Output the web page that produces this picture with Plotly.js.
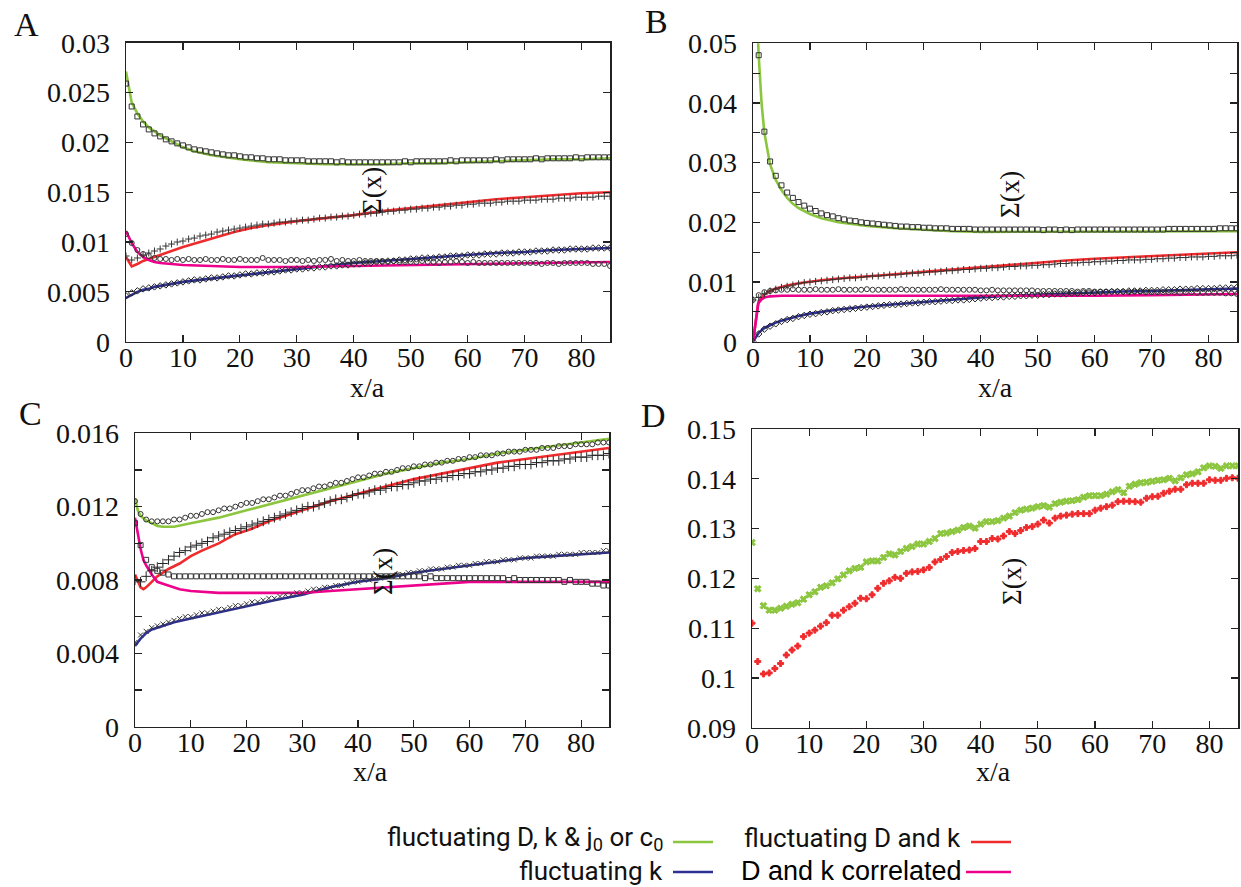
<!DOCTYPE html>
<html><head><meta charset="utf-8">
<script src="https://cdn.plot.ly/plotly-3.0.1.min.js"></script>
<style>html,body{margin:0;padding:0;background:#fff;}#plot{width:1241px;height:887px;}</style>
</head><body><div id="plot"></div>
<script>
// ---------- DATA ----------
// sample grid for the simulation markers (x/a = 0..85)
const X = Array.from({length: 86}, (_, i) => i);

// Panel A – analytic curves
const A_green_x = [0,1,2,3,4,5,6,8,10,12,15,20,25,30,35,40,45,50,55,60,65,70,75,80,85];
const A_green_y = [0.0271,0.0240,0.0229,0.0221,0.0215,0.0211,0.0207,0.0201,0.0195,0.0191,0.0187,0.0183,0.0180,0.0179,0.0178,0.0178,0.0178,0.0179,0.0179,0.0180,0.0181,0.0182,0.0183,0.0183,0.0184];
const A_red_x = [0,1,2,3,4,5,7,10,13,16,19,22,25,30,35,40,45,50,55,60,65,70,75,80,85];
const A_red_y = [0.0085,0.00755,0.0078,0.0081,0.0083,0.0085,0.0089,0.0095,0.0100,0.0105,0.0110,0.0114,0.0117,0.0121,0.0124,0.0127,0.0131,0.0134,0.0137,0.0140,0.0143,0.0145,0.0147,0.0149,0.0150];
const A_blue_x = [0,1,2,3,4,5,7,10,13,16,19,22,25,30,35,40,45,50,55,60,65,70,75,80,85];
const A_blue_y = [0.0044,0.0047,0.0050,0.0052,0.0053,0.0055,0.0057,0.0060,0.0062,0.0064,0.0066,0.0068,0.0070,0.0073,0.0076,0.0079,0.0081,0.0083,0.0085,0.0087,0.0089,0.0090,0.0092,0.0093,0.0094];
const A_mag_x = [0,1,2,3,4,5,6,8,10,15,20,25,30,40,50,60,70,80,85];
const A_mag_y = [0.0111,0.0099,0.0090,0.0085,0.0082,0.0080,0.0079,0.0078,0.0077,0.0076,0.0075,0.0075,0.0075,0.0076,0.0077,0.0078,0.0079,0.0080,0.0080];
// Panel A – simulation markers
const A_green_m = [0.0259,0.0236,0.0226,0.0218,0.0213,0.0209,0.0206,0.0203,0.0201,0.0199,
 0.0197,0.0195,0.0193,0.0192,0.0191,0.0190,0.0189,0.0188,0.0187,0.0187,
 0.0186,0.0185,0.0185,0.0184,0.0184,0.0183,0.0183,0.0183,0.0182,0.0182,
 0.0182,0.0182,0.0181,0.0181,0.0181,0.0181,0.0181,0.0180,0.0181,0.0180,
 0.0180,0.0180,0.0180,0.0180,0.0180,0.0180,0.0180,0.0180,0.0180,0.0181,
 0.0180,0.0181,0.0181,0.0181,0.0181,0.0181,0.0181,0.0182,0.0181,0.0182,
 0.0182,0.0182,0.0182,0.0182,0.0182,0.0183,0.0182,0.0183,0.0183,0.0183,
 0.0183,0.0183,0.0184,0.0183,0.0184,0.0184,0.0184,0.0184,0.0184,0.0185,
 0.0184,0.0185,0.0185,0.0185,0.0185,0.0185];
const A_red_m = [0.0086,0.0082,0.0084,0.0087,0.0089,0.0091,0.0093,0.0096,0.0098,0.0100,
 0.0101,0.0103,0.0104,0.0106,0.0107,0.0108,0.0110,0.0111,0.0112,0.0113,
 0.0114,0.0115,0.0116,0.0117,0.0118,0.0118,0.0119,0.0120,0.0120,0.0121,
 0.0121,0.0122,0.0122,0.0123,0.0124,0.0124,0.0125,0.0125,0.0126,0.0126,
 0.0127,0.0128,0.0128,0.0129,0.0129,0.0130,0.0131,0.0131,0.0132,0.0132,
 0.0133,0.0133,0.0134,0.0134,0.0135,0.0135,0.0136,0.0136,0.0137,0.0137,
 0.0138,0.0138,0.0139,0.0139,0.0139,0.0140,0.0140,0.0141,0.0141,0.0141,
 0.0142,0.0142,0.0142,0.0143,0.0143,0.0143,0.0144,0.0144,0.0144,0.0145,
 0.0145,0.0145,0.0145,0.0146,0.0146,0.0146];
const A_circ_m = [0.0108,0.0099,0.0092,0.0088,0.0086,0.0084,0.0083,0.0083,0.0082,0.0083,
 0.0082,0.0083,0.0082,0.0082,0.0083,0.0082,0.0082,0.0083,0.0082,0.0082,
 0.0083,0.0082,0.0082,0.0082,0.0084,0.0082,0.0082,0.0082,0.0081,0.0082,
 0.0082,0.0081,0.0082,0.0081,0.0082,0.0082,0.0083,0.0081,0.0082,0.0081,
 0.0081,0.0082,0.0081,0.0081,0.0081,0.0081,0.0080,0.0081,0.0080,0.0080,
 0.0080,0.0080,0.0081,0.0080,0.0080,0.0079,0.0080,0.0080,0.0081,0.0080,
 0.0079,0.0080,0.0079,0.0079,0.0079,0.0079,0.0079,0.0079,0.0079,0.0079,
 0.0079,0.0079,0.0079,0.0078,0.0079,0.0079,0.0078,0.0079,0.0079,0.0079,
 0.0079,0.0079,0.0078,0.0078,0.0078,0.0076];
const A_blue_m = [0.0046,0.0049,0.0051,0.0053,0.0054,0.0055,0.0056,0.0057,0.0058,0.0059,
 0.0060,0.0061,0.0062,0.0062,0.0063,0.0064,0.0064,0.0065,0.0066,0.0066,
 0.0067,0.0068,0.0068,0.0069,0.0069,0.0070,0.0070,0.0071,0.0072,0.0072,
 0.0073,0.0073,0.0074,0.0074,0.0075,0.0075,0.0076,0.0076,0.0077,0.0077,
 0.0078,0.0078,0.0079,0.0079,0.0080,0.0080,0.0081,0.0081,0.0082,0.0082,
 0.0083,0.0083,0.0084,0.0084,0.0084,0.0085,0.0085,0.0086,0.0086,0.0086,
 0.0087,0.0087,0.0087,0.0088,0.0088,0.0088,0.0089,0.0089,0.0089,0.0090,
 0.0090,0.0090,0.0091,0.0091,0.0091,0.0092,0.0092,0.0092,0.0093,0.0093,
 0.0093,0.0093,0.0094,0.0094,0.0094,0.0094];

// Panel B – analytic curves
const B_green_x = [0,1,1.5,2,3,4,5,6,7,8,10,12,15,20,25,30,35,40,50,60,70,80,85];
const B_green_y = [0.070,0.048,0.040,0.035,0.0297,0.0271,0.0254,0.0241,0.0231,0.0224,0.0214,0.0207,0.0200,0.0194,0.0190,0.0187,0.0185,0.0184,0.0184,0.0184,0.0184,0.0185,0.0185];
const B_red_x = [0,1,2,3,4,5,6,8,10,12,15,20,25,30,35,40,45,50,55,60,65,70,75,80,85];
const B_red_y = [0,0.0068,0.0079,0.0085,0.0089,0.0092,0.0094,0.0098,0.0101,0.0103,0.0106,0.0109,0.0113,0.0117,0.0121,0.0125,0.0129,0.0133,0.0136,0.0139,0.0141,0.0144,0.0146,0.0148,0.0150];
const B_blue_x = [0,1,2,3,4,5,6,8,10,12,15,20,25,30,35,40,45,50,55,60,65,70,75,80,85];
const B_blue_y = [0,0.0015,0.0023,0.0028,0.0032,0.0035,0.0038,0.0043,0.0047,0.0050,0.0054,0.0059,0.0063,0.0067,0.0070,0.0074,0.0077,0.0079,0.0081,0.0083,0.0084,0.0085,0.0087,0.0088,0.0089];
const B_mag_x = [0,0.9,1.5,2,3,4,5,7,10,15,20,30,40,50,60,70,80,85];
const B_mag_y = [0,0.0064,0.0071,0.0074,0.0076,0.0077,0.0077,0.0077,0.0077,0.0077,0.0077,0.0077,0.0076,0.0076,0.0077,0.0078,0.0079,0.0080];
// Panel B – simulation markers
const B_green_m = [0.070,0.0480,0.0352,0.0302,0.0278,0.0262,0.0250,0.0241,0.0234,0.0228,
 0.0223,0.0219,0.0215,0.0212,0.0210,0.0207,0.0205,0.0203,0.0202,0.0200,
 0.0199,0.0198,0.0197,0.0196,0.0195,0.0194,0.0193,0.0193,0.0192,0.0192,
 0.0191,0.0191,0.0190,0.0190,0.0190,0.0189,0.0189,0.0189,0.0189,0.0188,
 0.0188,0.0188,0.0188,0.0188,0.0188,0.0188,0.0188,0.0188,0.0188,0.0188,
 0.0188,0.0187,0.0188,0.0188,0.0187,0.0188,0.0187,0.0188,0.0188,0.0188,
 0.0188,0.0188,0.0188,0.0188,0.0188,0.0188,0.0188,0.0188,0.0188,0.0188,
 0.0188,0.0188,0.0188,0.0189,0.0189,0.0189,0.0189,0.0189,0.0189,0.0189,
 0.0189,0.0189,0.0190,0.0190,0.0190,0.0190];
const B_red_m = [0.0070,0.0074,0.0080,0.0085,0.0088,0.0091,0.0093,0.0095,0.0097,0.0099,
 0.0100,0.0101,0.0102,0.0103,0.0104,0.0105,0.0106,0.0107,0.0107,0.0108,
 0.0109,0.0110,0.0110,0.0111,0.0112,0.0112,0.0113,0.0114,0.0115,0.0115,
 0.0116,0.0117,0.0117,0.0118,0.0119,0.0119,0.0120,0.0121,0.0121,0.0122,
 0.0123,0.0123,0.0124,0.0124,0.0125,0.0126,0.0126,0.0127,0.0127,0.0128,
 0.0128,0.0129,0.0129,0.0130,0.0131,0.0131,0.0132,0.0132,0.0133,0.0133,
 0.0134,0.0134,0.0135,0.0135,0.0136,0.0136,0.0137,0.0137,0.0137,0.0138,
 0.0138,0.0139,0.0139,0.0140,0.0140,0.0141,0.0141,0.0142,0.0142,0.0142,
 0.0143,0.0143,0.0144,0.0144,0.0144,0.0145];
const B_circ_m = [0.0070,0.0078,0.0083,0.0085,0.0086,0.0087,0.0087,0.0088,0.0087,0.0087,
 0.0087,0.0088,0.0087,0.0087,0.0087,0.0088,0.0087,0.0087,0.0087,0.0087,
 0.0088,0.0087,0.0087,0.0087,0.0087,0.0087,0.0088,0.0087,0.0087,0.0087,
 0.0087,0.0087,0.0087,0.0088,0.0087,0.0087,0.0087,0.0087,0.0087,0.0087,
 0.0086,0.0086,0.0087,0.0086,0.0086,0.0086,0.0086,0.0086,0.0086,0.0086,
 0.0085,0.0085,0.0085,0.0085,0.0085,0.0085,0.0085,0.0084,0.0085,0.0085,
 0.0084,0.0084,0.0084,0.0084,0.0084,0.0084,0.0083,0.0084,0.0084,0.0083,
 0.0083,0.0083,0.0083,0.0083,0.0083,0.0082,0.0083,0.0083,0.0082,0.0082,
 0.0082,0.0082,0.0082,0.0081,0.0081,0.0080];
const B_blue_m = [0.0000,0.0013,0.0021,0.0026,0.0030,0.0034,0.0037,0.0039,0.0042,0.0044,
 0.0046,0.0047,0.0049,0.0050,0.0052,0.0053,0.0054,0.0055,0.0056,0.0057,
 0.0058,0.0059,0.0060,0.0061,0.0062,0.0062,0.0063,0.0064,0.0065,0.0065,
 0.0066,0.0067,0.0067,0.0068,0.0069,0.0069,0.0070,0.0070,0.0071,0.0072,
 0.0073,0.0074,0.0074,0.0075,0.0075,0.0076,0.0076,0.0077,0.0077,0.0078,
 0.0078,0.0079,0.0079,0.0080,0.0080,0.0080,0.0081,0.0081,0.0082,0.0082,
 0.0082,0.0083,0.0083,0.0084,0.0084,0.0084,0.0085,0.0085,0.0085,0.0086,
 0.0086,0.0086,0.0087,0.0087,0.0087,0.0088,0.0088,0.0088,0.0089,0.0089,
 0.0089,0.0089,0.0090,0.0090,0.0090,0.0091];

// Panel C – analytic curves
const C_green_x = [0,0.5,1,2,3,4,5,7,10,15,20,25,30,35,40,45,50,55,60,65,70,75,80,85];
const C_green_y = [0.01245,0.0118,0.0115,0.01125,0.0111,0.01095,0.0109,0.0109,0.0111,0.0114,0.0118,0.0122,0.0126,0.0130,0.0134,0.0138,0.0141,0.0144,0.0146,0.0149,0.0151,0.0153,0.0155,0.0157];
const C_red_x = [0,1,1.5,2,3,4,5,6,8,10,12,15,18,21,24,27,30,35,40,45,50,55,60,65,70,75,80,85];
const C_red_y = [0.0083,0.0076,0.0075,0.0076,0.0079,0.0082,0.0084,0.0086,0.0089,0.0093,0.0096,0.0100,0.0105,0.0108,0.0112,0.0115,0.0118,0.0123,0.0127,0.0131,0.0135,0.0138,0.0141,0.0144,0.0146,0.0148,0.0150,0.0152];
const C_blue_x = [0,1,2,3,4,5,7,10,13,16,20,25,30,35,40,45,50,55,60,65,70,75,80,85];
const C_blue_y = [0.0044,0.0048,0.0051,0.0053,0.0054,0.0055,0.0057,0.0059,0.0061,0.0063,0.0066,0.0069,0.0072,0.0076,0.0079,0.0081,0.0084,0.0086,0.0088,0.0090,0.0092,0.0093,0.0094,0.0095];
const C_mag_x = [0,0.5,1,1.5,2,3,4,5,6,8,10,15,20,25,30,35,40,50,60,70,80,85];
const C_mag_y = [0.0114,0.0105,0.0097,0.0091,0.0088,0.0083,0.0079,0.0078,0.0077,0.0075,0.0074,0.0073,0.0073,0.0073,0.0073,0.0074,0.0075,0.0077,0.0079,0.0079,0.0079,0.0079];
// Panel C – simulation markers
const C_green_m = [0.0123,0.0116,0.0113,0.0112,0.0112,0.0112,0.0112,0.0113,0.0113,0.0114,
 0.0115,0.0115,0.0116,0.0117,0.0117,0.0118,0.0119,0.0119,0.0120,0.0121,
 0.0122,0.0122,0.0123,0.0124,0.0124,0.0125,0.0126,0.0126,0.0127,0.0128,
 0.0129,0.0129,0.0130,0.0131,0.0131,0.0132,0.0133,0.0133,0.0134,0.0135,
 0.0136,0.0136,0.0137,0.0138,0.0138,0.0139,0.0139,0.0140,0.0141,0.0141,
 0.0142,0.0142,0.0143,0.0143,0.0144,0.0144,0.0145,0.0145,0.0146,0.0146,
 0.0147,0.0147,0.0148,0.0148,0.0148,0.0149,0.0149,0.0150,0.0150,0.0150,
 0.0151,0.0151,0.0151,0.0152,0.0152,0.0152,0.0153,0.0153,0.0153,0.0154,
 0.0154,0.0154,0.0154,0.0155,0.0155,0.0155];
const C_red_m = [0.0080,0.0079,0.0082,0.0085,0.0087,0.0089,0.0091,0.0093,0.0095,0.0096,
 0.0098,0.0099,0.0100,0.0101,0.0103,0.0104,0.0105,0.0106,0.0107,0.0108,
 0.0109,0.0110,0.0111,0.0112,0.0113,0.0114,0.0115,0.0116,0.0117,0.0118,
 0.0119,0.0120,0.0120,0.0121,0.0122,0.0123,0.0124,0.0124,0.0125,0.0126,
 0.0127,0.0127,0.0128,0.0129,0.0129,0.0130,0.0131,0.0131,0.0132,0.0132,
 0.0133,0.0134,0.0134,0.0135,0.0135,0.0136,0.0136,0.0137,0.0137,0.0138,
 0.0138,0.0139,0.0139,0.0140,0.0140,0.0141,0.0141,0.0142,0.0142,0.0143,
 0.0143,0.0143,0.0144,0.0144,0.0145,0.0145,0.0145,0.0146,0.0146,0.0147,
 0.0147,0.0147,0.0148,0.0148,0.0148,0.0149];
const C_circ_m = [0.0111,0.0099,0.0091,0.0087,0.0085,0.0084,0.0083,0.0082,0.0082,0.0082,
 0.0082,0.0082,0.0082,0.0082,0.0082,0.0082,0.0082,0.0082,0.0082,0.0082,
 0.0082,0.0082,0.0082,0.0082,0.0082,0.0082,0.0082,0.0082,0.0082,0.0082,
 0.0082,0.0082,0.0082,0.0082,0.0082,0.0082,0.0082,0.0082,0.0082,0.0082,
 0.0082,0.0082,0.0082,0.0082,0.0082,0.0082,0.0082,0.0082,0.0082,0.0082,
 0.0082,0.0082,0.0081,0.0082,0.0081,0.0081,0.0081,0.0081,0.0081,0.0081,
 0.0081,0.0081,0.0081,0.0081,0.0081,0.0081,0.0081,0.0080,0.0081,0.0080,
 0.0080,0.0080,0.0080,0.0080,0.0080,0.0080,0.0080,0.0079,0.0080,0.0079,
 0.0079,0.0079,0.0078,0.0078,0.0077,0.0077];
const C_blue_m = [0.0046,0.0050,0.0052,0.0054,0.0055,0.0056,0.0057,0.0058,0.0059,0.0060,
 0.0060,0.0061,0.0062,0.0062,0.0063,0.0064,0.0064,0.0065,0.0066,0.0066,
 0.0067,0.0068,0.0068,0.0069,0.0070,0.0070,0.0071,0.0072,0.0072,0.0073,
 0.0073,0.0074,0.0075,0.0075,0.0076,0.0076,0.0077,0.0077,0.0078,0.0079,
 0.0079,0.0080,0.0080,0.0081,0.0081,0.0082,0.0082,0.0083,0.0083,0.0084,
 0.0084,0.0085,0.0085,0.0086,0.0086,0.0086,0.0087,0.0087,0.0088,0.0088,
 0.0088,0.0089,0.0089,0.0090,0.0090,0.0090,0.0091,0.0091,0.0091,0.0092,
 0.0092,0.0092,0.0093,0.0093,0.0093,0.0093,0.0094,0.0094,0.0094,0.0094,
 0.0095,0.0095,0.0095,0.0095,0.0096,0.0096];

// Panel D – simulation markers only
const D_green_m = [0.1272,0.1179,0.1145,0.1136,0.1136,0.1140,0.1144,0.1148,0.1151,0.1158,
 0.1167,0.1173,0.1182,0.1185,0.1191,0.1199,0.1207,0.1215,0.1220,0.1222,
 0.1233,0.1235,0.1235,0.1242,0.1249,0.1247,0.1254,0.1260,0.1264,0.1269,
 0.1269,0.1274,0.1280,0.1290,0.1291,0.1294,0.1297,0.1302,0.1305,0.1301,
 0.1309,0.1314,0.1314,0.1316,0.1321,0.1325,0.1332,0.1337,0.1339,0.1341,
 0.1344,0.1346,0.1343,0.1350,0.1353,0.1355,0.1356,0.1358,0.1363,0.1366,
 0.1366,0.1366,0.1369,0.1374,0.1378,0.1372,0.1385,0.1389,0.1392,0.1393,
 0.1395,0.1397,0.1398,0.1401,0.1396,0.1402,0.1408,0.1410,0.1414,0.1422,
 0.1426,0.1425,0.1421,0.1426,0.1426,0.1426];
const D_red_m = [0.1110,0.1033,0.1008,0.1010,0.1019,0.1029,0.1046,0.1056,0.1064,0.1083,
 0.1090,0.1096,0.1104,0.1111,0.1126,0.1126,0.1136,0.1143,0.1150,0.1160,
 0.1159,0.1167,0.1180,0.1190,0.1195,0.1202,0.1200,0.1210,0.1213,0.1214,
 0.1217,0.1222,0.1233,0.1238,0.1244,0.1252,0.1254,0.1256,0.1257,0.1260,
 0.1274,0.1274,0.1280,0.1279,0.1285,0.1294,0.1290,0.1296,0.1302,0.1304,
 0.1309,0.1317,0.1311,0.1321,0.1325,0.1327,0.1329,0.1330,0.1330,0.1330,
 0.1337,0.1341,0.1344,0.1347,0.1354,0.1355,0.1355,0.1354,0.1353,0.1361,
 0.1364,0.1365,0.1371,0.1375,0.1379,0.1379,0.1388,0.1391,0.1391,0.1391,
 0.1398,0.1397,0.1397,0.1401,0.1402,0.1401];

// Tick definitions
const xTicks = [0,10,20,30,40,50,60,70,80];
const A_yticks = [0,0.005,0.01,0.015,0.02,0.025,0.03];
const A_ylabels = ['0','0.005','0.01','0.015','0.02','0.025','0.03'];
const B_yticks = [0,0.005,0.01,0.015,0.02,0.025,0.03,0.035,0.04,0.045,0.05];
const B_ylabels = ['0',' ','0.01',' ','0.02',' ','0.03',' ','0.04',' ','0.05'];
const C_yticks = [0,0.002,0.004,0.006,0.008,0.01,0.012,0.014,0.016];
const C_ylabels = ['0',' ','0.004',' ','0.008',' ','0.012',' ','0.016'];
const D_yticks = [0.09,0.1,0.11,0.12,0.13,0.14,0.15];
const D_ylabels = ['0.09','0.1','0.11','0.12','0.13','0.14','0.15'];

const legendLabels = ['fluctuating D, k &amp; j<sub>0</sub> or c<sub>0</sub>','fluctuating D and k','fluctuating k','D and k correlated'];

// ---------- STYLE ----------
const GREEN = '#8cc63f', RED = '#ef2b2d', BLUE = '#2e3192', MAG = '#ec008c';
const W = 1241, H = 887;
const px = v => v / W, py = v => 1 - v / H;
const SERIF = 'Liberation Serif';

function line(x, y, color, ax) {
  return {x, y, type: 'scatter', mode: 'lines', line: {color, width: 2.6}, xaxis: 'x' + ax, yaxis: 'y' + ax, hoverinfo: 'skip', showlegend: false};
}
function marks(y, symbol, ax, color, size) {
  return {x: X, y, type: 'scatter', mode: 'markers', xaxis: 'x' + ax, yaxis: 'y' + ax, hoverinfo: 'skip', showlegend: false,
    marker: {symbol, size: size || 5, color: color || '#333', line: {color: color || '#333', width: 1}}};
}

const traces = [
  line(A_green_x, A_green_y, GREEN, ''), line(A_red_x, A_red_y, RED, ''), line(A_blue_x, A_blue_y, BLUE, ''), line(A_mag_x, A_mag_y, MAG, ''),
  marks(A_green_m, 'square-open', ''), marks(A_red_m, 'cross-thin-open', ''), marks(A_circ_m, 'circle-open', ''), marks(A_blue_m, 'diamond-open', '', '#222'),
  line(B_green_x, B_green_y, GREEN, '2'), line(B_red_x, B_red_y, RED, '2'), line(B_blue_x, B_blue_y, BLUE, '2'), line(B_mag_x, B_mag_y, MAG, '2'),
  marks(B_green_m, 'square-open', '2'), marks(B_red_m, 'cross-thin-open', '2'), marks(B_circ_m, 'circle-open', '2'), marks(B_blue_m, 'diamond-open', '2', '#222'),
  line(C_green_x, C_green_y, GREEN, '3'), line(C_red_x, C_red_y, RED, '3'), line(C_blue_x, C_blue_y, BLUE, '3'), line(C_mag_x, C_mag_y, MAG, '3'),
  marks(C_green_m, 'circle-open', '3'), marks(C_red_m, 'cross-thin-open', '3', '#222', 7), marks(C_circ_m, 'square-open', '3'), marks(C_blue_m, 'x-thin-open', '3', '#333', 5),
  marks(D_green_m, 'x', '4', GREEN, 6), marks(D_red_m, 'cross', '4', RED, 5)
];

function xa(dom, anchor) {
  return {domain: dom, anchor, range: [0, 85], tickvals: xTicks, showgrid: false, zeroline: false,
    showline: true, linecolor: '#222', linewidth: 1.5, mirror: 'allticks', ticks: 'inside', ticklen: 7, tickwidth: 1.2, tickcolor: '#222',
    tickfont: {family: SERIF, size: 28, color: '#111'}, ticklabelstandoff: -10};
}
function ya(dom, anchor, range, tv, tt) {
  return {domain: dom, anchor, range, tickvals: tv, ticktext: tt, showgrid: false, zeroline: false,
    showline: true, linecolor: '#222', linewidth: 1.5, mirror: 'allticks', ticks: 'inside', ticklen: 7, tickwidth: 1.2, tickcolor: '#222',
    tickfont: {family: SERIF, size: 28, color: '#111'}, ticklabelstandoff: 9};
}

function txt(x, y, text, size, extra) {
  return Object.assign({xref: 'paper', yref: 'paper', x: px(x), y: py(y), text, showarrow: false,
    font: {family: SERIF, size, color: '#111'}, xanchor: 'center', yanchor: 'middle'}, extra || {});
}
const SANS1 = {family: 'Roboto', size: 26, color: '#111'};
const annotations = [
  txt(26, 24, 'A', 34), txt(656, 22, 'B', 34), txt(30, 413, 'C', 34), txt(653, 415, 'D', 34),
  txt(367, 387, 'x/a', 28), txt(995, 387, 'x/a', 28), txt(370, 771, 'x/a', 28), txt(993, 771, 'x/a', 28),
  txt(372, 190, 'Σ(x)', 27, {textangle: -90}), txt(1010, 195, 'Σ(x)', 27, {textangle: -90}),
  txt(383, 572, 'Σ(x)', 27, {textangle: -90}), txt(1012, 582, 'Σ(x)', 27, {textangle: -90}),
  txt(665, 838, legendLabels[0], 26, {xanchor: 'right', font: SANS1}),
  txt(963, 838, legendLabels[1], 26, {xanchor: 'right', font: SANS1}),
  txt(665, 871, legendLabels[2], 26, {xanchor: 'right', font: SANS1}),
  txt(964, 871, legendLabels[3], 27, {xanchor: 'right', font: {family: 'Liberation Sans', size: 27, color: '#000'}})
];

const legendColors = [GREEN, RED, BLUE, MAG];
const legendPos = [[673, 713, 842], [971, 1011, 842], [673, 713, 872], [966, 1011, 872]];
const shapes = legendPos.map((p, i) => ({type: 'line', xref: 'paper', yref: 'paper', x0: px(p[0]), x1: px(p[1]), y0: py(p[2]), y1: py(p[2]),
  line: {color: legendColors[i], width: 2.6}}));

const layout = {
  width: W, height: H, margin: {l: 0, r: 0, t: 0, b: 0}, paper_bgcolor: '#fff', plot_bgcolor: '#fff', showlegend: false,
  xaxis: xa([px(126), px(610)], 'y'),
  yaxis: ya([py(341.7), py(42.7)], 'x', [0, 0.03], A_yticks, A_ylabels),
  xaxis2: xa([px(753), px(1237)], 'y2'),
  yaxis2: ya([py(341.7), py(43.3)], 'x2', [0, 0.05], B_yticks, B_ylabels),
  xaxis3: xa([px(135), px(609)], 'y3'),
  yaxis3: ya([py(726.7), py(433.3)], 'x3', [0, 0.016], C_yticks, C_ylabels),
  xaxis4: xa([px(752), px(1238)], 'y4'),
  yaxis4: ya([py(727.7), py(429)], 'x4', [0.09, 0.15], D_yticks, D_ylabels),
  annotations, shapes
};

Plotly.newPlot('plot', traces, layout, {displayModeBar: false, staticPlot: true});
</script>
</body></html>
